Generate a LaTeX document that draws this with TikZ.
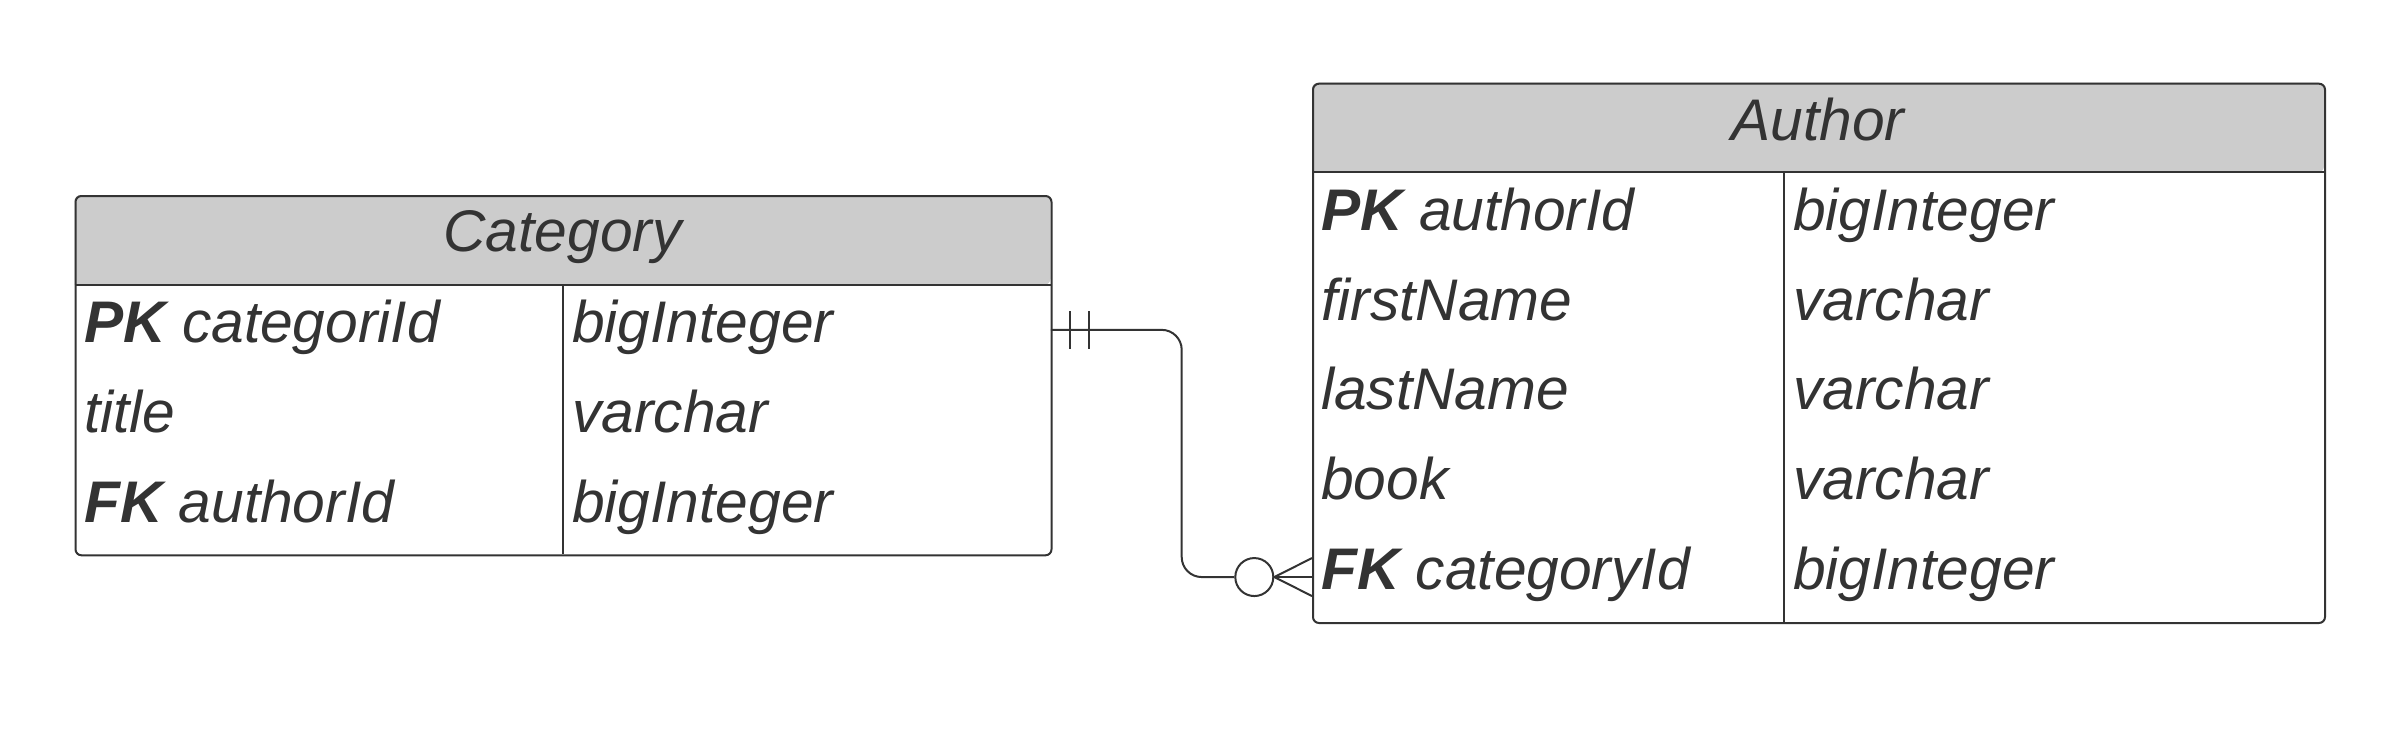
\documentclass[tikz,border=0pt]{standalone}
\usepackage{fontspec}
\setmainfont{Liberation Sans}
\definecolor{ink}{HTML}{333333}
\definecolor{hdr}{HTML}{CCCCCC}
\begin{document}
\begin{tikzpicture}[x=1pt,y=-1pt,
  line/.style={draw=ink, line width=2pt},
  txt/.style={font=\fontsize{58.7}{62}\selectfont\itshape, text=ink, inner sep=0pt},
  titletxt/.style={txt, anchor=base},
  celltxt/.style={txt, anchor=base west},
  rowbox/.style={minimum width=#1, minimum height=89.9pt, inner sep=0pt, anchor=north west}]
\useasboundingbox (0,0) rectangle (2383,748);
% ---------- Category ----------
\fill[hdr, rounded corners=6pt] (74.5,284.7) -- (74.5,195) -- (1050.5,195) -- (1050.5,284.7) [sharp corners] -- cycle;
\node[line, rounded corners=6pt, minimum width=976pt, minimum height=359.3pt, inner sep=0pt, anchor=north west] (cat) at (74.5,195) {};
\draw[line] (74.5,284.7) -- (1050.5,284.7);
\draw[line] (563,284.7) -- (563,554.3);
\node[titletxt] (cattitle) at (562.5,251.5) {Category};
\node[rowbox=976pt] (catpk) at (74.5,284.7) {};
\node[rowbox=976pt] (cattitle2) at (74.5,374.6) {};
\node[rowbox=976pt] (catfk) at (74.5,464.5) {};
\node[celltxt] (c1a) at (84,342.5) {\textbf{PK} categoriId};
\node[celltxt] (c1b) at (572,342.5) {bigInteger};
\node[celltxt] (c2a) at (84,432.4) {title};
\node[celltxt] (c2b) at (572,432.4) {varchar};
\node[celltxt] (c3a) at (84,522.3) {\textbf{FK} authorId};
\node[celltxt] (c3b) at (572,522.3) {bigInteger};
% ---------- Author ----------
\fill[hdr, rounded corners=6pt] (1312,172.3) -- (1312,82.7) -- (2324,82.7) -- (2324,172.3) [sharp corners] -- cycle;
\node[line, rounded corners=6pt, minimum width=1012pt, minimum height=539.3pt, inner sep=0pt, anchor=north west] (auth) at (1312,82.7) {};
\draw[line] (1312,172.3) -- (2324,172.3);
\draw[line] (1784,172.3) -- (1784,622);
\node[titletxt] (authtitle) at (1818,140) {Author};
\node[rowbox=1012pt] (authpk) at (1312,172.3) {};
\node[rowbox=1012pt] (authfk) at (1312,531.9) {};
\node[celltxt] (a1a) at (1321,230.1) {\textbf{PK} authorId};
\node[celltxt] (a1b) at (1793,230.1) {bigInteger};
\node[celltxt] (a2a) at (1321,320.0) {firstName};
\node[celltxt] (a2b) at (1793,320.0) {varchar};
\node[celltxt] (a3a) at (1321,409.9) {lastName};
\node[celltxt] (a3b) at (1793,409.9) {varchar};
\node[celltxt] (a4a) at (1321,499.8) {book};
\node[celltxt] (a4b) at (1793,499.8) {varchar};
\node[celltxt] (a5a) at (1321,589.7) {\textbf{FK} categoryId};
\node[celltxt] (a5b) at (1793,589.7) {bigInteger};
% ---------- Relationship ----------
\coordinate (bend) at (1181.7,0);
\node[circle, line, minimum size=38pt, inner sep=0pt] (circ) at ([xshift=-57.7pt]authfk.west) {};
\draw[line, rounded corners=20pt] (catpk.east) -- (catpk.east -| bend) -- (authfk.west -| bend) -- (circ.west);
\draw[line] ([yshift=-19pt]authfk.west) -- (circ.east) -- ([yshift=19pt]authfk.west);
\draw[line] (circ.east) -- (authfk.west);
\draw[line] ([xshift=19.5pt,yshift=-19pt]catpk.east) -- ([xshift=19.5pt,yshift=19pt]catpk.east);
\draw[line] ([xshift=38.5pt,yshift=-19pt]catpk.east) -- ([xshift=38.5pt,yshift=19pt]catpk.east);
\end{tikzpicture}
\end{document}
